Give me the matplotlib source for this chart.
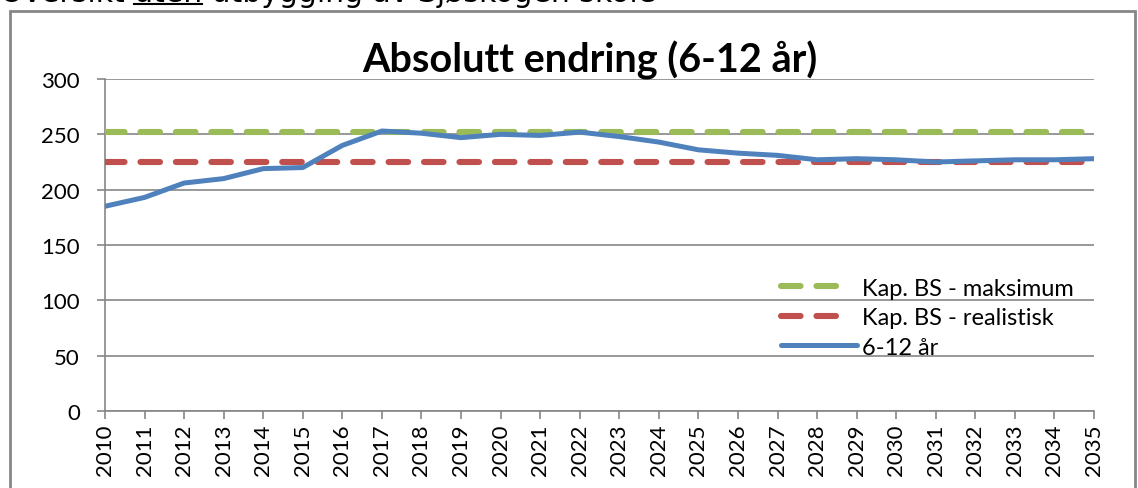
import matplotlib
matplotlib.use('Agg')
import matplotlib.pyplot as plt
import matplotlib as mpl
from matplotlib.patches import Rectangle
from matplotlib.lines import Line2D

mpl.rcParams['font.family'] = ['Lato', 'DejaVu Sans']

'''Data'''
years = list(range(2010, 2036))
elever_6_12 = [185, 193, 206, 210, 219, 220, 240, 253, 251, 247, 250, 249, 252,
               248, 243, 236, 233, 231, 227, 228, 227, 225, 226, 227, 227, 228]
kap_maks = [252] * len(years)
kap_real = [225] * len(years)

title = 'Absolutt endring (6-12 år)'
labels = ['Kap. BS - maksimum', 'Kap. BS - realistisk', '6-12 år']
heading = 'Oversikt uten utbygging av Sjøskogen skole'

GREEN = '#9bbb59'
RED = '#c0504d'
BLUE = '#4f81bd'
GRAY = '#868686'

fig = plt.figure(figsize=(11.38, 4.89), dpi=100)
ax = fig.add_axes((105/1138, 1-412/489, 989/1138, 332/489))

ax.plot(years, kap_maks, color=GREEN, lw=4.4, dashes=(3.2, 2.6),
        dash_capstyle='round', label=labels[0], zorder=3)
ax.plot(years, kap_real, color=RED, lw=4.4, dashes=(3.2, 2.6),
        dash_capstyle='round', label=labels[1], zorder=3)
ax.plot(years, elever_6_12, color=BLUE, lw=3.6, solid_capstyle='round',
        solid_joinstyle='round', label=labels[2], zorder=4)

ax.set_xlim(2010, 2035)
ax.set_ylim(0, 300)
ax.set_yticks(range(0, 301, 50))
ax.set_xticks(years)
ax.set_xticklabels([str(y) for y in years], rotation=90)
ax.grid(axis='y', color=GRAY, lw=1.2, zorder=1)
ax.set_axisbelow(True)
for s in ['top', 'right']:
    ax.spines[s].set_visible(False)
for s in ['left', 'bottom']:
    ax.spines[s].set_color(GRAY)
    ax.spines[s].set_linewidth(1.2)
ax.tick_params(axis='both', colors=GRAY, labelcolor='black', labelsize=16,
               length=6, width=1.2, direction='out')
ax.tick_params(axis='x', pad=3)
ax.tick_params(axis='y', pad=12)

ax.set_title(title, fontsize=28.5, fontweight='bold', pad=2, x=0.49)

# legend handles: two dashes each, like the original
h = [Line2D([], [], color=GREEN, lw=4.4, dashes=(3.2, 2.6, 3.2, 20), dash_capstyle='round'),
     Line2D([], [], color=RED, lw=4.4, dashes=(3.2, 2.6, 3.2, 20), dash_capstyle='round'),
     Line2D([], [], color=BLUE, lw=3.6, solid_capstyle='round')]
leg = ax.legend(h, labels, loc='upper left', bbox_to_anchor=(0.674, 0.43),
                frameon=False, fontsize=17, handlelength=3.2, handletextpad=0.25,
                labelspacing=0.36, borderaxespad=0)

# outer frame
fig.patches.append(Rectangle((10/1138, -0.01), 1125/1138, 1-12/489+0.01,
                             transform=fig.transFigure, fill=False,
                             edgecolor=GRAY, lw=2))

# cut-off heading above the chart, "uten" underlined
hfont = dict(fontsize=21.5, family='DejaVu Sans', va='baseline', ha='left')
hx, hy = 0.0, 1 - 2/489
fig.text(hx, hy, heading, **hfont)
fig.canvas.draw()
r = fig.canvas.get_renderer()
t1 = fig.text(hx, hy, 'Oversikt ', **hfont)
t2 = fig.text(hx, hy, 'Oversikt uten', **hfont)
w1 = t1.get_window_extent(r).width
w2 = t2.get_window_extent(r).width
t1.remove()
t2.remove()
fig.add_artist(Line2D([w1/1138, w2/1138], [1 - 5/489, 1 - 5/489],
                      transform=fig.transFigure, color='black', lw=1.5))

fig.savefig('out.png', dpi=100)
